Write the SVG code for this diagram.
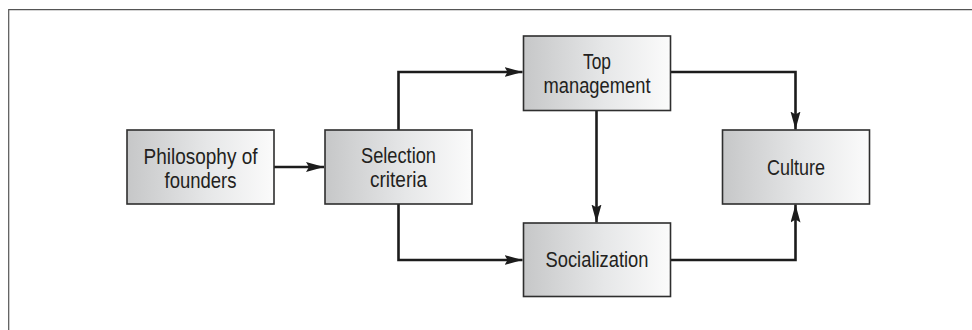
<svg xmlns="http://www.w3.org/2000/svg" width="972" height="330" viewBox="0 0 972 330">
  <defs>
    <linearGradient id="boxFill" x1="0" y1="0" x2="1" y2="0">
      <stop offset="0" stop-color="#c6c7c8"/>
      <stop offset="0.55" stop-color="#e6e7e8"/>
      <stop offset="1" stop-color="#fbfbfb"/>
    </linearGradient>
    <marker id="arrow" markerUnits="userSpaceOnUse" markerWidth="20" markerHeight="12" refX="18" refY="5" orient="auto">
      <path d="M0,0 L18,5 L0,10 L3,5 Z" fill="#1c1c1c"/>
    </marker>
    <style>
      .box { fill: url(#boxFill); stroke: #2e2e2e; stroke-width: 1.6; }
      .lbl { font-family: "Liberation Sans Narrow", "Liberation Sans", Arial, sans-serif; font-size: 22.5px; fill: #231f20; text-anchor: middle; }
      .conn { fill: none; stroke: #1c1c1c; stroke-width: 2.6; marker-end: url(#arrow); }
      .frame { fill: none; stroke: #555; stroke-width: 1.2; }
    </style>
  </defs>

  <rect width="972" height="330" fill="#ffffff"/>
  <path class="frame" d="M8.7,330 V9.7 H972"/>

  <g id="connectors">
    <path class="conn" d="M274,167 H324"/>
    <path class="conn" d="M398.5,130 V72 H522.5"/>
    <path class="conn" d="M398.5,204 V260 H522.5"/>
    <path class="conn" d="M596.5,110.5 V222.5"/>
    <path class="conn" d="M671,72 H795.5 V129.5"/>
    <path class="conn" d="M671,260 H795.5 V204.5"/>
  </g>

  <g id="philosophy">
    <rect class="box" x="127" y="130" width="147" height="74"/>
    <text class="lbl" x="200.5" y="164" textLength="114" lengthAdjust="spacingAndGlyphs">Philosophy of</text>
    <text class="lbl" x="200.5" y="188" textLength="72" lengthAdjust="spacingAndGlyphs">founders</text>
  </g>

  <g id="selection">
    <rect class="box" x="325" y="130" width="147" height="74"/>
    <text class="lbl" x="398.5" y="163" textLength="75" lengthAdjust="spacingAndGlyphs">Selection</text>
    <text class="lbl" x="398.5" y="187" textLength="57" lengthAdjust="spacingAndGlyphs">criteria</text>
  </g>

  <g id="top-management">
    <rect class="box" x="523.5" y="36" width="147" height="74.5"/>
    <text class="lbl" x="597" y="69" textLength="28" lengthAdjust="spacingAndGlyphs">Top</text>
    <text class="lbl" x="597" y="93" textLength="107" lengthAdjust="spacingAndGlyphs">management</text>
  </g>

  <g id="socialization">
    <rect class="box" x="523.5" y="223" width="147" height="73.5"/>
    <text class="lbl" x="597" y="267" textLength="103" lengthAdjust="spacingAndGlyphs">Socialization</text>
  </g>

  <g id="culture">
    <rect class="box" x="722.5" y="130" width="147" height="74"/>
    <text class="lbl" x="796" y="175" textLength="58" lengthAdjust="spacingAndGlyphs">Culture</text>
  </g>
</svg>
